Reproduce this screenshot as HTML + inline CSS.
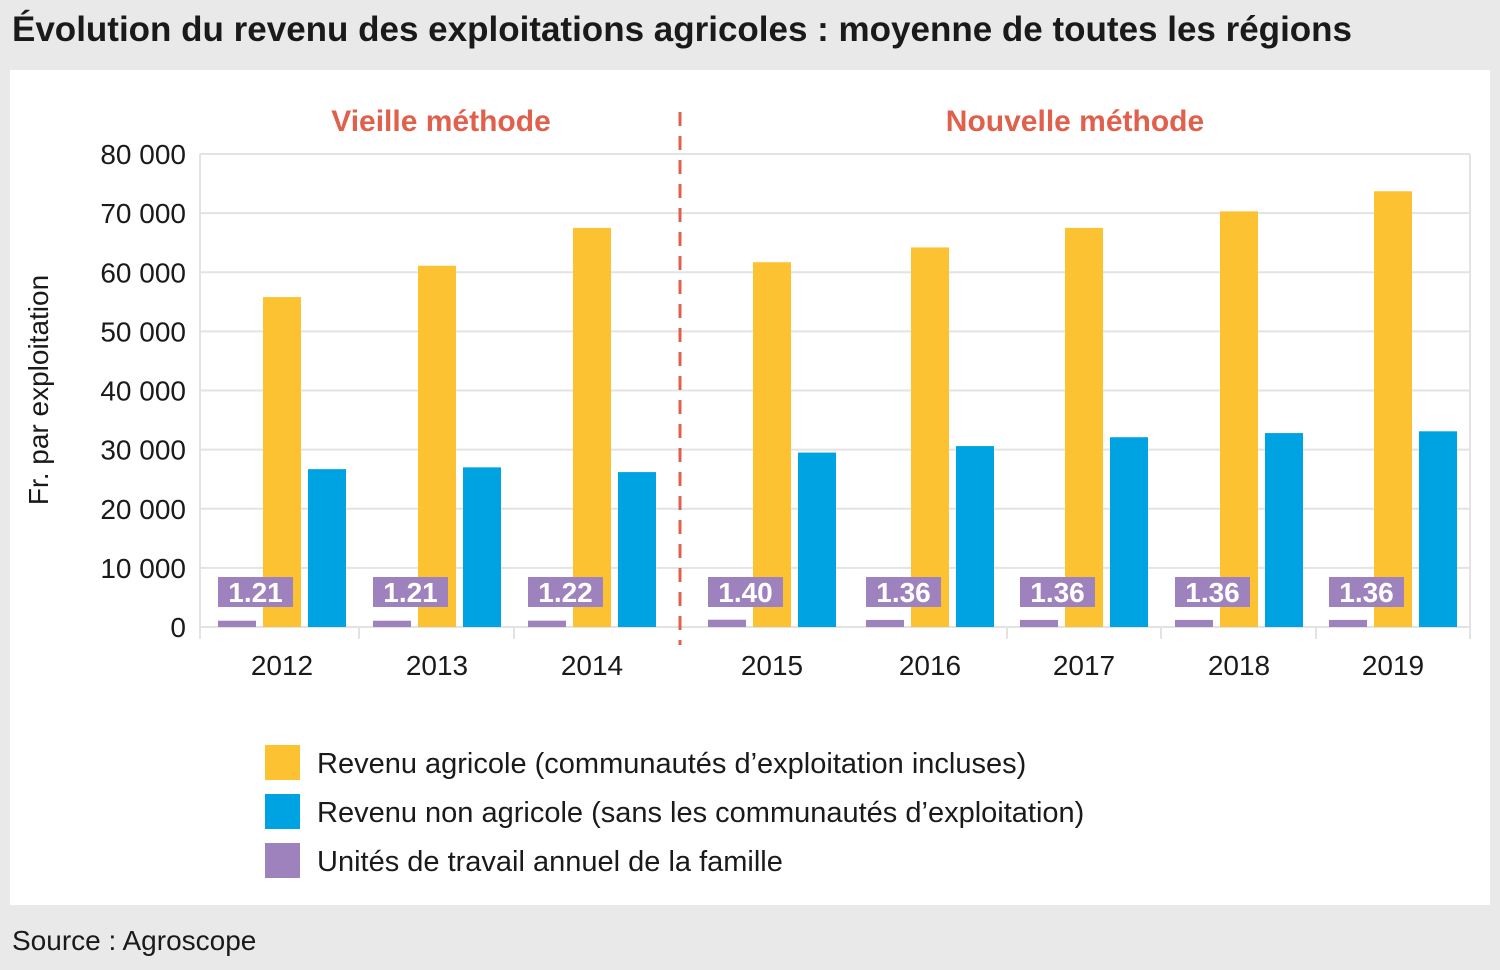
<!DOCTYPE html>
<html><head><meta charset="utf-8"><style>
body{margin:0;width:1500px;height:970px;background:#e9e9e9;font-family:"Liberation Sans Narrow","Liberation Sans",sans-serif;position:relative;overflow:hidden}
#title{position:absolute;left:12px;top:10px;font-size:35px;font-weight:bold;color:#1a1a1a;white-space:nowrap}
#panel{position:absolute;left:10px;top:70px;width:1480px;height:835px;background:#fff}
#source{position:absolute;left:12px;top:925px;font-size:28px;color:#1a1a1a}
</style></head><body>
<div id="title">Évolution du revenu des exploitations agricoles : moyenne de toutes les régions</div>
<div id="panel"></div>
<svg id="chart" width="1500" height="970" style="position:absolute;left:0;top:0" font-family="'Liberation Sans Narrow','Liberation Sans',sans-serif"></svg>
<div id="source">Source : Agroscope</div>
<script>
const years=["2012","2013","2014","2015","2016","2017","2018","2019"];
const farmIncome=[55800,61100,67500,61700,64200,67500,70300,73700];
const nonFarmIncome=[26700,27000,26200,29500,30600,32100,32800,33100];
const workUnits=[1.21,1.21,1.22,1.40,1.36,1.36,1.36,1.36];
const workLabels=["1.21","1.21","1.22","1.40","1.36","1.36","1.36","1.36"];
const yTicks=[0,10000,20000,30000,40000,50000,60000,70000,80000];
const yTickLabels=["0","10 000","20 000","30 000","40 000","50 000","60 000","70 000","80 000"];
const groupCenters=[282,437,592,772,930,1084,1239,1393];

const svg=document.getElementById('chart');
const NS="http://www.w3.org/2000/svg";
function mk(t,a,p){const e=document.createElementNS(NS,t);for(const k in a)e.setAttribute(k,a[k]);(p||svg).appendChild(e);return e;}
const y0=627,ytop=154,x0=200,x1=1470;
function y(v){return y0-(v/80000)*(y0-ytop);}
function x(i){return groupCenters[i];}
function wuH(v){return v*5.2;}

yTicks.forEach((t,i)=>{
  const g=mk('line',{x1:x0,x2:x1,y1:y(t),y2:y(t),stroke:'#e3e3e3','stroke-width':2});
  
  
  const l=mk('text',{x:186,y:y(t)+10,'text-anchor':'end','font-size':28,fill:'#1a1a1a'});
  l.textContent=yTickLabels[i];
  
  
});
mk('line',{x1:x0,x2:x0,y1:ytop,y2:y0,stroke:'#e3e3e3','stroke-width':2});
mk('line',{x1:x1,x2:x1,y1:ytop,y2:y0,stroke:'#e3e3e3','stroke-width':2});
[x0,359,514,1007,1161,1316,x1].forEach(px=>{mk('line',{x1:px,x2:px,y1:y0,y2:y0+12,stroke:'#e3e3e3','stroke-width':2});});

const yt=mk('text',{x:0,y:0,transform:'translate(48,390) rotate(-90)','text-anchor':'middle','font-size':28,fill:'#1a1a1a'});
yt.textContent='Fr. par exploitation';



years.forEach((yr,i)=>{
  const c=x(i);
  const p=mk('rect',{x:c-64,y:y0-wuH(workUnits[i]),width:38,height:wuH(workUnits[i]),fill:'#9e82bd'});
  
  
  const a=mk('rect',{x:c-19,y:y(farmIncome[i]),width:38,height:y0-y(farmIncome[i]),fill:'#fdc232'});
  
  
  const b=mk('rect',{x:c+26,y:y(nonFarmIncome[i]),width:38,height:y0-y(nonFarmIncome[i]),fill:'#00a3e2'});
  
  
  const lb=mk('rect',{x:c-64,y:577,width:75,height:30,fill:'#9e82bd'});
  
  
  const lt=mk('text',{x:c-26.5,y:602,'text-anchor':'middle','font-size':28,'font-weight':'bold',fill:'#fff'});
  lt.textContent=workLabels[i];
  
  
  const xl=mk('text',{x:c,y:675,'text-anchor':'middle','font-size':28,fill:'#1a1a1a'});
  xl.textContent=yr;
  
  
});

const dl=mk('line',{x1:680,x2:680,y1:112,y2:645,stroke:'#e0604c','stroke-width':3,'stroke-dasharray':'14,10'});


[['Vieille méthode',441,'old-method-label'],['Nouvelle méthode',1075,'new-method-label']].forEach(d=>{
  const t=mk('text',{x:d[1],y:131,'text-anchor':'middle','font-size':30,'font-weight':'bold',fill:'#e0604c'});
  t.textContent=d[0];
  
  
});

[['#fdc232','Revenu agricole (communautés d’exploitation incluses)',745,'legend-entry-farm-income'],
 ['#00a3e2','Revenu non agricole (sans les communautés d’exploitation)',794,'legend-entry-nonfarm-income'],
 ['#9e82bd','Unités de travail annuel de la famille',843,'legend-entry-work-units']].forEach(d=>{
  const g=mk('g',{});
  
  
  mk('rect',{x:265,y:d[2],width:35,height:35,fill:d[0]},g);
  const t=mk('text',{x:317,y:d[2]+28,'font-size':29,fill:'#1a1a1a'},g);
  t.textContent=d[1];
});
</script>
</body></html>
